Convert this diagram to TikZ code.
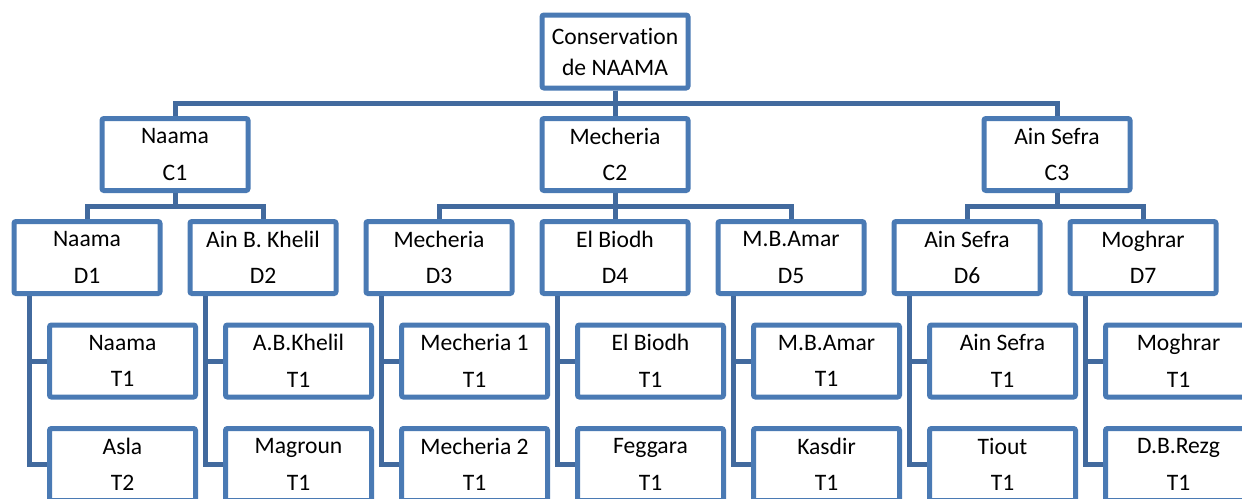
\documentclass[tikz,border=0pt]{standalone}
\usepackage{fontspec}
\setmainfont{Carlito}[Ligatures={NoCommon,NoRare,NoContextual}]
\definecolor{boxc}{RGB}{74,122,180}
\definecolor{linec}{RGB}{66,106,158}
\tikzset{
  orgbox/.style={draw=boxc, line width=5pt, rounded corners=2pt, fill=white,
    minimum width=146pt, minimum height=72pt, inner sep=0pt, align=center,
    font=\fontsize{23.6}{36.5}\selectfont},
  topbox/.style={orgbox, font=\fontsize{23.6}{31}\selectfont, minimum height=73pt},
  conn/.style={draw=linec, line width=5pt}
}
\begin{document}
\begin{tikzpicture}[x=1pt,y=-1pt]
\clip (0,0) rectangle (1242,498);
\fill[white] (0,0) rectangle (1242,498);
\node[topbox] (top) at (615,51.5) {Conservation\\de NAAMA};
\node[orgbox] (C1) at (175,154.5) {Naama\\C1};
\node[orgbox] (C2) at (615,154.5) {Mecheria\\C2};
\node[orgbox] (C3) at (1057,154.5) {Ain Sefra\\C3};
\node[orgbox] (D1) at (87,257.5) {Naama\\D1};
\node[orgbox] (D2) at (263,257.5) {Ain B. Khelil\\D2};
\node[orgbox] (D3) at (439,257.5) {Mecheria\\D3};
\node[orgbox] (D4) at (615,257.5) {El Biodh\\D4};
\node[orgbox] (D5) at (791,257.5) {M.B.Amar\\D5};
\node[orgbox] (D6) at (967,257.5) {Ain Sefra\\D6};
\node[orgbox] (D7) at (1143,257.5) {Moghrar\\D7};
\node[orgbox] (T11) at (122.5,361) {Naama\\T1};
\node[orgbox] (T12) at (122.5,464.5) {Asla\\T2};
\node[orgbox] (T21) at (298.5,361) {A.B.Khelil\\T1};
\node[orgbox] (T22) at (298.5,464.5) {Magroun\\T1};
\node[orgbox] (T31) at (474.5,361) {Mecheria 1\\T1};
\node[orgbox] (T32) at (474.5,464.5) {Mecheria 2\\T1};
\node[orgbox] (T41) at (650.5,361) {El Biodh\\T1};
\node[orgbox] (T42) at (650.5,464.5) {Feggara\\T1};
\node[orgbox] (T51) at (826.5,361) {M.B.Amar\\T1};
\node[orgbox] (T52) at (826.5,464.5) {Kasdir\\T1};
\node[orgbox] (T61) at (1002.5,361) {Ain Sefra\\T1};
\node[orgbox] (T62) at (1002.5,464.5) {Tiout\\T1};
\node[orgbox] (T71) at (1178.5,361) {Moghrar\\T1};
\node[orgbox] (T72) at (1178.5,464.5) {D.B.Rezg\\T1};
% connectors
\draw[conn] (top.south) -- ++(0,12.5) -| (C1.north);
\draw[conn] (top.south) -- ++(0,12.5) -| (C3.north);
\draw[conn] (top.south) -- (C2.north);
\draw[conn] (C1.south) -- ++(0,13.5) -| (D1.north);
\draw[conn] (C1.south) -- ++(0,13.5) -| (D2.north);
\draw[conn] (C2.south) -- ++(0,13.5) -| (D3.north);
\draw[conn] (C2.south) -- ++(0,13.5) -| (D5.north);
\draw[conn] (C2.south) -- (D4.north);
\draw[conn] (C3.south) -- ++(0,13.5) -| (D6.north);
\draw[conn] (C3.south) -- ++(0,13.5) -| (D7.north);
\foreach \d in {1,...,7}{
  \draw[conn] ([xshift=17.5pt]D\d.south west) |- (T\d2.west);
  \draw[conn] ([xshift=17.5pt]D\d.south west) |- (T\d1.west);
}
\end{tikzpicture}
\end{document}
